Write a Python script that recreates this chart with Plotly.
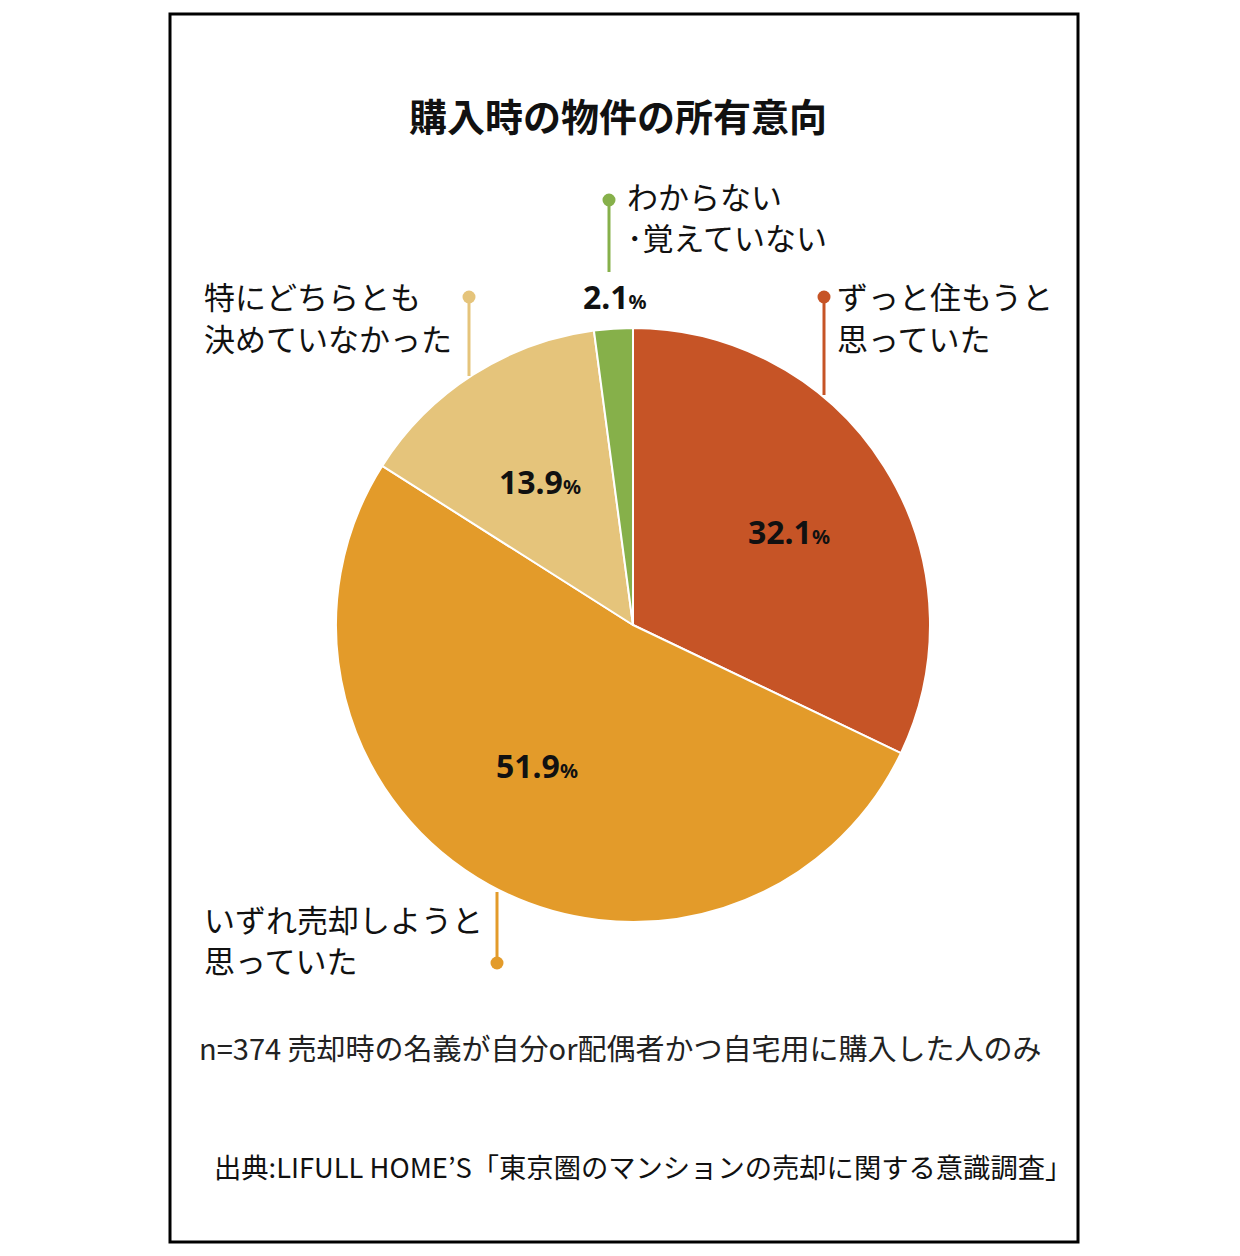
import plotly.graph_objects as go

W, H = 1240, 1256

categories = ["ずっと住もうと<br>思っていた", "いずれ売却しようと<br>思っていた",
              "特にどちらとも<br>決めていなかった", "わからない<br>･覚えていない"]
values = [32.1, 51.9, 13.9, 2.1]
colors = ["#C65426", "#E39B2A", "#E5C47B", "#86B04A"]

title_text = "購入時の物件の所有意向"
note_text = "n=374 売却時の名義が自分or配偶者かつ自宅用に購入した人のみ"
source_text = "出典:LIFULL HOME’S「東京圏のマンションの売却に関する意識調査」"


def px(x):
    return x / W


def py(y):
    return 1 - y / H


cx, cy, r = 633, 625, 297

fig = go.Figure()
fig.add_trace(go.Pie(
    labels=categories,
    values=values,
    sort=False,
    direction="clockwise",
    rotation=0,
    marker=dict(colors=colors, line=dict(color="white", width=2)),
    textinfo="none",
    hoverinfo="label+percent",
    showlegend=False,
    domain=dict(x=[px(cx - r), px(cx + r)], y=[py(cy + r), py(cy - r)]),
))

JP = "Noto Sans CJK JP"
NUM = "Noto Sans"

annotations = []
shapes = []

# frame
shapes.append(dict(type="rect", xref="paper", yref="paper",
                   x0=px(170), x1=px(1078), y0=py(1242), y1=py(14),
                   line=dict(color="black", width=3)))

# title
annotations.append(dict(text="<b>" + title_text + "</b>", x=px(618), y=py(115),
                        xanchor="center", yanchor="middle",
                        font=dict(family=JP, size=38, color="#111")))

# category labels (left-aligned) : (x_left, y_center of first line)
label_pos = [(836, 296), (203, 918), (203, 296), (626, 196)]
line_gap = 41
for lab, (lx, ly) in zip(categories, label_pos):
    for i, line in enumerate(lab.split("<br>")):
        annotations.append(dict(text=line, x=px(lx), y=py(ly + i * line_gap),
                                xanchor="left", yanchor="middle", align="left", borderpad=0,
                                font=dict(family=JP, size=31, color="#111")))

# percentage labels
pct_pos = [(789, 531), (537, 765), (540, 482), (615, 297)]
for v, (tx, ty) in zip(values, pct_pos):
    annotations.append(dict(text=f"<b>{v:.1f}<span style='font-size:20px'>%</span></b>",
                            x=px(tx), y=py(ty), xanchor="center", yanchor="middle",
                            font=dict(family=NUM, size=32, color="#111")))

# leader lines with dots: (dot_x, dot_y, end_y)
leaders = [(824, 297, 395), (497, 963, 892), (469, 297, 376), (609, 200, 272)]
for (dx, dy, ey), col in zip(leaders, colors):
    shapes.append(dict(type="line", xref="paper", yref="paper",
                       x0=px(dx), x1=px(dx), y0=py(dy), y1=py(ey),
                       line=dict(color=col, width=3)))
    rr = 6.5
    shapes.append(dict(type="circle", xref="paper", yref="paper",
                       x0=px(dx - rr), x1=px(dx + rr), y0=py(dy + rr), y1=py(dy - rr),
                       fillcolor=col, line=dict(color=col, width=0)))

annotations.append(dict(text=note_text, x=px(197), y=py(1047), xanchor="left", yanchor="middle",
                        font=dict(family=JP, size=29, color="#222")))
annotations.append(dict(text=source_text, x=px(212), y=py(1166), xanchor="left", yanchor="middle",
                        font=dict(family=JP, size=27.3, color="#111")))

for a in annotations:
    a.setdefault("xref", "paper")
    a.setdefault("yref", "paper")
    a.setdefault("showarrow", False)

fig.update_layout(
    width=W, height=H,
    margin=dict(l=0, r=0, t=0, b=0),
    paper_bgcolor="white",
    plot_bgcolor="white",
    annotations=annotations,
    shapes=shapes,
)

fig.write_html("out.html", config={"displayModeBar": False})

with open("out.html", encoding="utf-8") as f:
    html = f.read()
html = html.replace("<head>", "<head><style>html,body{margin:0;padding:0;}</style>", 1)
with open("out.html", "w", encoding="utf-8") as f:
    f.write(html)
